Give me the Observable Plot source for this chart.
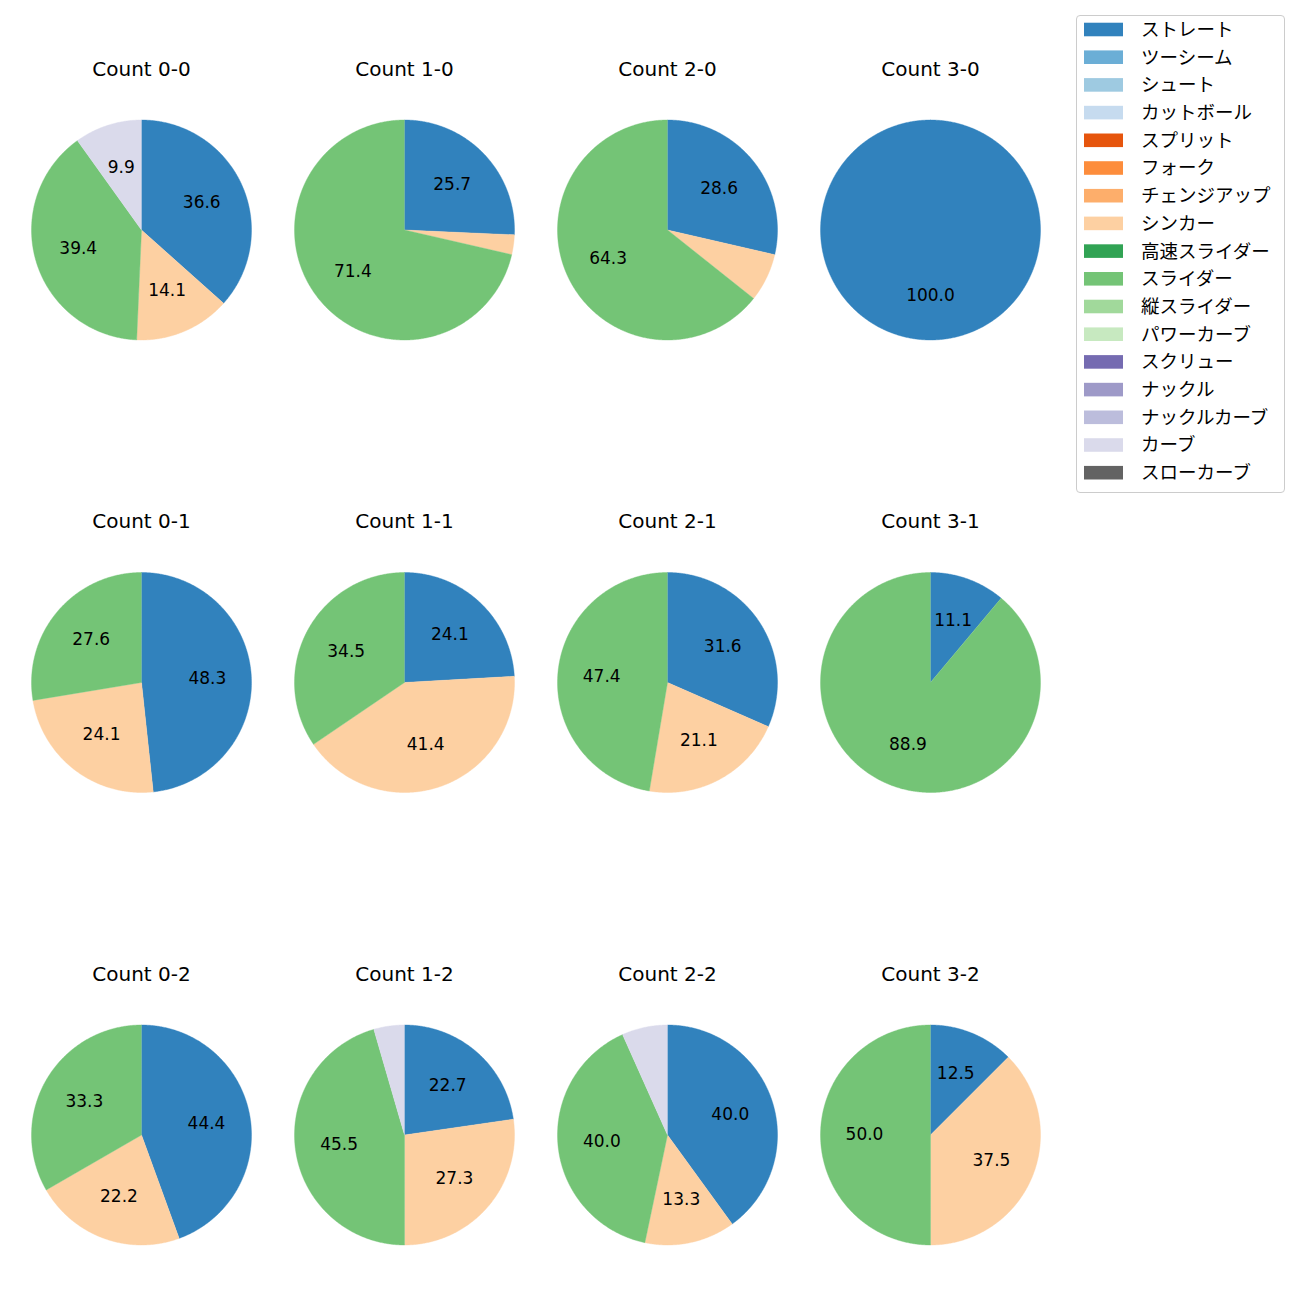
<!DOCTYPE html>
<html><head><meta charset="utf-8">
<script src="https://cdn.jsdelivr.net/npm/d3@7"></script>
<script src="https://cdn.jsdelivr.net/npm/@observablehq/plot@0.6"></script>
<style>
body{margin:0;background:#fff;}
#wrap{position:relative;width:1300px;height:1300px;font-family:"DejaVu Sans","Noto Sans CJK JP",sans-serif;}
#chart{position:absolute;left:0;top:0;}
#legend{position:absolute;left:1076px;top:15px;width:207px;height:476px;border:1px solid #cccccc;border-radius:4px;background:#fff;}
#legend svg{position:absolute;left:0;top:0;}
</style></head><body><div id="wrap"><div id="chart"></div><div id="legend"></div></div>
<script>
// Pitch types (legend order)
const pitchTypes = ["ストレート","ツーシーム","シュート","カットボール","スプリット","フォーク","チェンジアップ","シンカー","高速スライダー","スライダー","縦スライダー","パワーカーブ","スクリュー","ナックル","ナックルカーブ","カーブ","スローカーブ"];
// Ball-strike counts (one pie each)
const counts = ["0-0","1-0","2-0","3-0","0-1","1-1","2-1","3-1","0-2","1-2","2-2","3-2"];
// Percentages per pitch type, one value per count
const straight = [36.6, 25.7, 28.6, 100.0, 48.3, 24.1, 31.6, 11.1, 44.4, 22.7, 40.0, 12.5];
const sinker   = [14.1,  2.9,  7.1,   0.0, 24.1, 41.4, 21.1,  0.0, 22.2, 27.3, 13.3, 37.5];
const slider   = [39.4, 71.4, 64.3,   0.0, 27.6, 34.5, 47.4, 88.9, 33.3, 45.5, 40.0, 50.0];
const curve    = [ 9.9,  0.0,  0.0,   0.0,  0.0,  0.0,  0.0,  0.0,  0.0,  4.5,  6.7,  0.0];
const seriesByType = {"ストレート": straight, "シンカー": sinker, "スライダー": slider, "カーブ": curve};

const palette = ["#3182bd","#6baed6","#9ecae1","#c6dbef","#e6550d","#fd8d3c","#fdae6b","#fdd0a2","#31a354","#74c476","#a1d99b","#c7e9c0","#756bb1","#9e9ac8","#bcbddc","#dadaeb","#636363"];
const FONT = '"DejaVu Sans","Noto Sans CJK JP",sans-serif';
const LFONT = '"Noto Sans CJK JP","DejaVu Sans",sans-serif';

const R = 110;               // pie radius in pixels
const half = 131.5 / R;      // half facet width in data units

const slices = [];
const labels = [];
counts.forEach((c, i) => {
  const [b, s] = c.split("-").map(Number);
  const vals = pitchTypes.filter(p => seriesByType[p]).map(p => ({p, v: seriesByType[p][i]})).filter(d => d.v > 0);
  const total = d3.sum(vals, d => d.v);
  let acc = 0;
  vals.forEach(d => {
    const a0 = acc / total * 2 * Math.PI; acc += d.v; const a1 = acc / total * 2 * Math.PI;
    const id = c + "|" + d.p;
    const n = Math.max(2, Math.ceil((a1 - a0) / (Math.PI / 360)));
    if (a1 - a0 < 2 * Math.PI - 1e-9) slices.push({id, pitch: d.p, b, s, x: 0, y: 0});
    for (let k = 0; k <= n; k++) {
      const a = a0 + (a1 - a0) * k / n;
      slices.push({id, pitch: d.p, b, s, x: Math.sin(a), y: Math.cos(a)});
    }
    if (d.v >= 8) {
      const am = (a0 + a1) / 2;
      labels.push({b, s, x: 0.6 * Math.sin(am), y: 0.6 * Math.cos(am), text: d.v.toFixed(1)});
    }
  });
});

const chart = Plot.plot({
  width: 1300, height: 1300,
  marginLeft: 9.5, marginRight: 238.5, marginTop: 98, marginBottom: 34,
  facet: {marginTop: 0, marginRight: 0, marginBottom: 0, marginLeft: 0},
  fx: {domain: [0,1,2,3], axis: null, paddingInner: 0, paddingOuter: 0, round: false},
  fy: {domain: [0,1,2], axis: null, paddingInner: 0.41878, paddingOuter: 0, round: false},
  x: {domain: [-half, half], axis: null},
  y: {domain: [-half, half], axis: null},
  color: {domain: pitchTypes, range: palette},
  style: {fontFamily: FONT, background: "transparent", overflow: "visible"},
  marks: [
    Plot.line(slices, {x: "x", y: "y", z: "id", fx: "b", fy: "s", fill: "pitch", stroke: "pitch", strokeWidth: 0.4}),
    Plot.text(labels, {x: "x", y: "y", fx: "b", fy: "s", text: "text", fontSize: 17, fill: "#000"}),
    Plot.text(counts, {fx: d => +d.split("-")[0], fy: d => +d.split("-")[1], x: () => 0, y: () => 1.459, text: d => "Count " + d, fontSize: 20, fill: "#000"})
  ]
});
document.getElementById("chart").appendChild(chart);

const legend = Plot.plot({
  width: 207, height: 476, margin: 0,
  x: {domain: [0, 207], range: [0, 207], axis: null},
  y: {domain: pitchTypes, range: [-0.35, 470.55], paddingInner: 0.51, paddingOuter: 0.255, axis: null, round: false},
  color: {domain: pitchTypes, range: palette},
  style: {fontFamily: LFONT, background: "transparent"},
  marks: [
    Plot.barX(pitchTypes, {x1: () => 7, x2: () => 46, y: d => d, fill: d => d}),
    Plot.text(pitchTypes, {x: () => 63.5, y: d => d, text: d => d, textAnchor: "start", fontSize: 18.5, fill: "#000"})
  ]
});
document.getElementById("legend").appendChild(legend);
</script></body></html>
